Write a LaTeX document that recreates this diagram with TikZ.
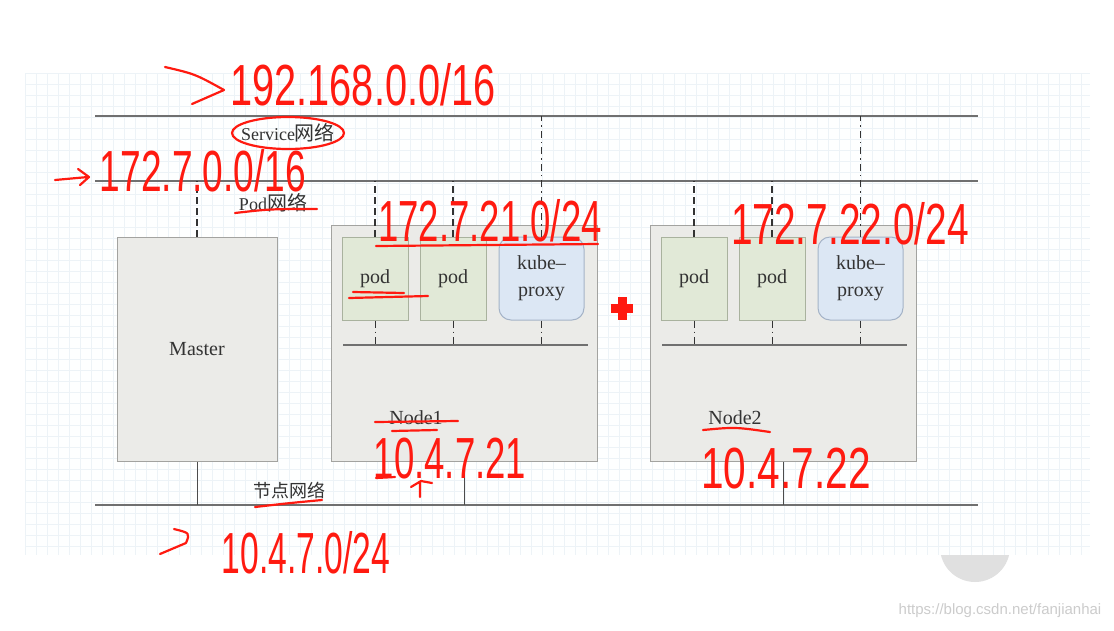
\documentclass[tikz,border=0pt]{standalone}
\usepackage{fontspec}
\setmainfont{Liberation Serif}
\newfontfamily\cjkfont{Noto Sans CJK SC}
\newfontfamily\handfont{Liberation Sans}
\definecolor{boxgray}{HTML}{EBEBE8}
\definecolor{boxline}{HTML}{A3A3A0}
\definecolor{podgreen}{HTML}{E1E9D7}
\definecolor{podline}{HTML}{A9B29E}
\definecolor{proxyblue}{HTML}{DCE7F4}
\definecolor{proxyline}{HTML}{A4B3C7}
\definecolor{netgray}{HTML}{707070}
\definecolor{gridblue}{HTML}{EDF3F7}
\definecolor{inkred}{HTML}{FF1A10}
\tikzset{
  host box/.style={draw=boxline, fill=boxgray, line width=1pt},
  pod box/.style={draw=podline, fill=podgreen, line width=1pt,
    minimum width=66pt, minimum height=83pt},
  proxy box/.style={pod box, draw=proxyline, fill=proxyblue,
    rounded corners=12pt, minimum width=85pt, align=center},
  net line/.style={draw=netgray, line width=1.5pt},
  pod link/.style={draw=black!80, line width=2pt, dash pattern=on 7pt off 4pt},
  svc link/.style={draw=black!80, line width=1pt,
    dash pattern=on 7pt off 4pt on 1.5pt off 4pt},
  host link/.style={draw=black!70, line width=0.8pt},
  grid line/.style={draw=gridblue, line width=0.5pt},
  net label/.style={font=\fontsize{18}{20}\selectfont},
  ink/.style={draw=inkred, line width=2.2pt, line cap=round, line join=round},
  scrawl/.style={text=inkred, font=\handfont\fontsize{58}{58}\selectfont,
    inner sep=0pt, text depth=0pt},
}
\newcommand\squeeze[2][0.63]{\scalebox{#1}[1]{#2}}

\begin{document}
\begin{tikzpicture}[x=1pt, y=-1pt, font=\fontsize{20}{27}\selectfont, text=black!80]
\useasboundingbox[fill=white] (0,0) rectangle (1114,630);
\fill[black!12] (975,547) circle[radius=35];
\fill[white!97!gridblue] (25,73) rectangle (1090,555);
\foreach \gx in {25,36,...,1090} \draw[grid line] (\gx,73) -- (\gx,555);
\foreach \gy in {73,84,...,555} \draw[grid line] (25,\gy) -- (1090,\gy);
\node[text=black!20, font=\handfont\fontsize{15}{15}\selectfont] (mark) at (1000,611)
  {https://blog.csdn.net/fanjianhai};

\coordinate (svcL) at (95,116);  \coordinate (svcR) at (978,116);
\coordinate (podL) at (95,181);  \coordinate (podR) at (978,181);
\coordinate (hostL) at (95,505); \coordinate (hostR) at (978,505);
\foreach \a/\b in {svcL/svcR, podL/podR, hostL/hostR}
  \draw[net line] (\a) -- (\b);

\node[host box, minimum width=160pt, minimum height=224pt] (master) at (197,349) {Master};
\draw[pod link] (master.north) -- (master.north |- podL);
\draw[host link] (master.south) -- (master.south |- hostL);

\foreach \n/\x in {1/331, 2/650} {
  \node[host box, minimum width=266pt, minimum height=236pt] (node\n) at (\x+133,343) {};
  \node (node\n label) at (\x+85,418) {Node\n};
  \node[pod box] (pod\n a) at (\x+44,278.5) {pod};
  \node[pod box] (pod\n b) at (\x+122,278.5) {pod};
  \node[proxy box] (proxy\n) at (\x+210.5,278.5) {kube--\\proxy};
  \coordinate (bridge\n L) at (\x+12,345);
  \coordinate (bridge\n R) at (\x+257,345);
  \draw[net line, line width=1.2pt] (bridge\n L) -- (bridge\n R);
  \foreach \p in {pod\n a, pod\n b, proxy\n}
    \draw[svc link] (\p.south) -- (\p.south |- bridge\n L);
  \draw[pod link] (pod\n a.north) -- (pod\n a.north |- podL);
  \draw[pod link] (pod\n b.north) -- (pod\n b.north |- podL);
  \draw[svc link] (proxy\n.north) -- (proxy\n.north |- svcL);
  \draw[host link] (node\n.south) -- (node\n.south |- hostL);
}

\node[net label] (svclabel) at (288,133) {Service{\cjkfont\fontsize{20}{20}\selectfont 网络}};
\node[net label] (podlabel) at (273,203) {Pod{\cjkfont\fontsize{20}{20}\selectfont 网络}};
\node[net label] (hostlabel) at (289,491) {\cjkfont 节点网络};

\fill[inkred] (611,304) rectangle (633,313);
\fill[inkred] (617.5,297) rectangle (626.5,320);

\node[scrawl] (svccidr) at (363,84) {\squeeze[0.685]{192.168.0.0/16}};
\node[scrawl] (podcidr) at (203,170) {\squeeze[0.64]{172.7.0.0/16}};
\node[scrawl] (cidr1) at (490,220) {\squeeze[0.63]{172.7.21.0/24}};
\node[scrawl] (cidr2) at (850,223) {\squeeze[0.67]{172.7.22.0/24}};
\node[scrawl] (ip1) at (450,458) {\squeeze[0.63]{10.4.7.21}};
\node[scrawl] (ip2) at (786,468) {\squeeze[0.7]{10.4.7.22}};
\node[scrawl] (hostcidr) at (306,552) {\squeeze[0.58]{10.4.7.0/24}};

\draw[ink] (288,133) ellipse[x radius=56, y radius=16];
\draw[ink] (165,67) .. controls (195,74) .. (224,90) -- (192,104);
\draw[ink] (55,180) -- (88,177) (78,169) -- (89,177) -- (80,185);
\draw[ink] (160,554) -- (186,543) .. controls (190,533) .. (174,529);
\draw[ink] (420,497) -- (420,483) (411,487) -- (421,481) -- (432,483);
\draw[ink] (353,292) -- (404,293) (349,298) -- (428,296);
\draw[ink] (235,213) .. controls (270,209) .. (317,209);
\draw[ink] (376,246) -- (598,244);
\draw[ink] (375,422) -- (458,421) (392,431) -- (437,430);
\draw[ink] (376,478) -- (395,477);
\draw[ink] (703,430) .. controls (735,427) .. (770,432);
\draw[ink] (255,507) .. controls (290,503) .. (322,500);
\end{tikzpicture}
\end{document}
